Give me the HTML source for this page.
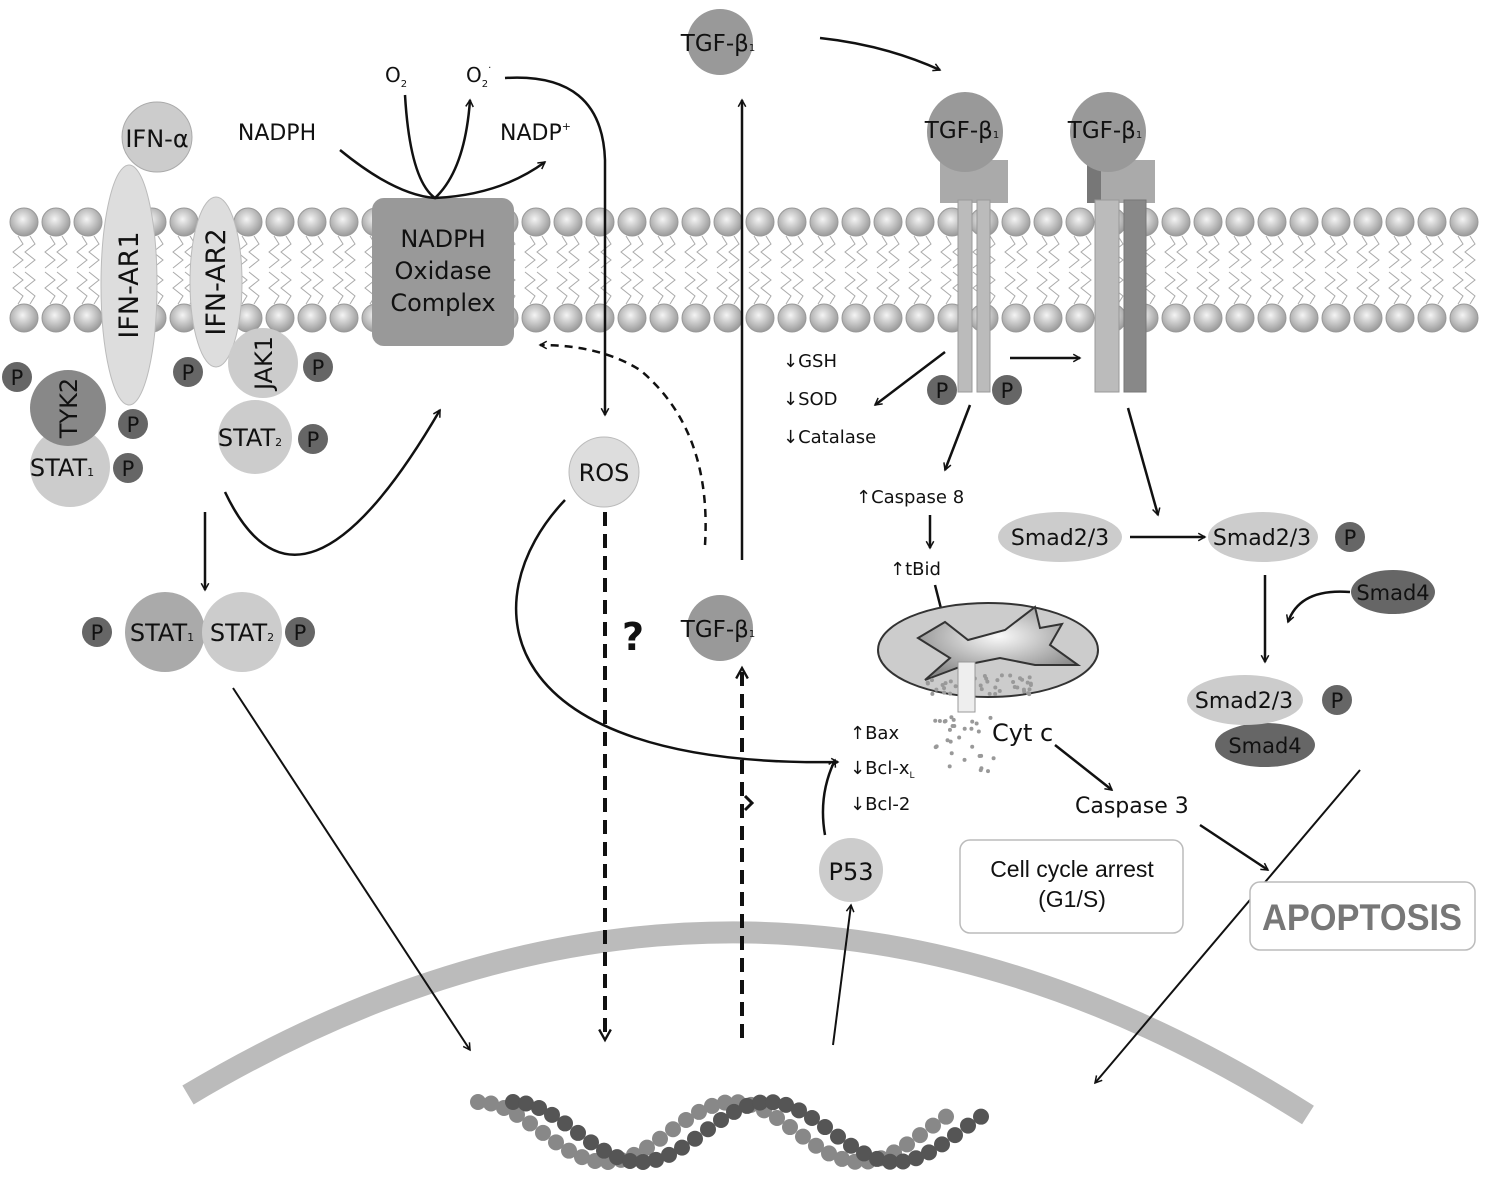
<!DOCTYPE html><html><head><meta charset="utf-8"><style>body{margin:0;background:#fff}svg{display:block}text{font-family:"DejaVu Sans","Liberation Sans",sans-serif;fill:#111}</style></head><body>
<svg id="s" width="1485" height="1185" viewBox="0 0 1485 1185" xmlns="http://www.w3.org/2000/svg">
<defs>
<radialGradient id="bd" cx="45%" cy="40%" r="60%"><stop offset="0" stop-color="#f4f4f4"/><stop offset="1" stop-color="#9a9a9a"/></radialGradient>
<radialGradient id="mt" cx="50%" cy="40%" r="60%"><stop offset="0" stop-color="#fafafa"/><stop offset="1" stop-color="#888"/></radialGradient>
<marker id="a" viewBox="0 0 12 12" refX="10" refY="6" markerWidth="9" markerHeight="9" orient="auto" markerUnits="userSpaceOnUse"><path d="M1,1 L10,6 L1,11" fill="none" stroke="#111" stroke-width="2"/></marker>
<marker id="ab" viewBox="0 0 12 12" refX="10" refY="6" markerWidth="14" markerHeight="14" orient="auto" markerUnits="userSpaceOnUse"><path d="M1,1 L10,6 L1,11" fill="none" stroke="#111" stroke-width="2"/></marker>
</defs>
<g id="mem"></g>
<path d="M188,1095 Q750,760 1308,1115" fill="none" stroke="#bbb" stroke-width="22"/>
<g id="dna"></g>
<circle cx="157" cy="137" r="35" fill="#ccc" stroke="#aaa"/><text x="157" y="147" font-size="24" text-anchor="middle">IFN-α</text>
<ellipse cx="129" cy="285" rx="28" ry="120" fill="#ddd" stroke="#bbb"/>
<text transform="translate(138,285) rotate(-90)" font-size="27" text-anchor="middle">IFN-AR1</text>
<ellipse cx="216" cy="282" rx="26" ry="85" fill="#ddd" stroke="#bbb"/>
<text transform="translate(225,282) rotate(-90)" font-size="27" text-anchor="middle">IFN-AR2</text>
<circle cx="70" cy="467" r="40" fill="#ccc"/><text x="62" y="476" font-size="24" text-anchor="middle">STAT<tspan font-size="11">1</tspan></text>
<circle cx="68" cy="408" r="38" fill="#888"/><text transform="translate(77,408) rotate(-90)" font-size="24" text-anchor="middle">TYK2</text>
<circle cx="263" cy="363" r="35" fill="#ccc"/><text transform="translate(272,363) rotate(-90)" font-size="24" text-anchor="middle">JAK1</text>
<circle cx="255" cy="437" r="37" fill="#ccc"/><text x="250" y="446" font-size="24" text-anchor="middle">STAT<tspan font-size="11">2</tspan></text>
<circle cx="165" cy="632" r="40" fill="#aaa"/><circle cx="242" cy="632" r="40" fill="#ccc"/>
<text x="162" y="641" font-size="24" text-anchor="middle">STAT<tspan font-size="11">1</tspan></text>
<text x="242" y="641" font-size="24" text-anchor="middle">STAT<tspan font-size="11">2</tspan></text>
<g id="ps"></g>
<rect x="372" y="198" width="142" height="148" rx="12" fill="#999"/>
<text font-size="24" text-anchor="middle"><tspan x="443" y="247">NADPH</tspan><tspan x="443" y="279">Oxidase</tspan><tspan x="443" y="311">Complex</tspan></text>
<text x="277" y="140" font-size="22" text-anchor="middle">NADPH</text>
<text x="385" y="82" font-size="20">O<tspan font-size="10" dy="5">2</tspan></text>
<text x="466" y="82" font-size="20">O<tspan font-size="10" dy="5">2</tspan><tspan font-size="10" dy="-16">·</tspan></text>
<text x="500" y="140" font-size="22">NADP<tspan font-size="11" dy="-10">+</tspan></text>
<g fill="none" stroke="#111" stroke-width="2.5">
<path d="M340,150 Q395,195 435,198 Q500,195 545,162" marker-end="url(#a)"/>
<path d="M405,95 Q410,180 435,198 Q465,170 470,100" marker-end="url(#a)"/>
<path d="M505,78 Q602,72 605,160 L605,415" marker-end="url(#a)"/>
<path d="M705,545 Q712,430 640,370 Q600,345 540,345" stroke-dasharray="8,6" marker-end="url(#a)"/>
<path d="M742,560 L742,100" marker-end="url(#a)"/>
<path d="M820,38 Q885,45 940,70" marker-end="url(#a)"/>
<path d="M225,492 Q300,650 440,410" marker-end="url(#a)"/>
<path d="M205,512 L205,590" marker-end="url(#a)"/>
<path d="M233,688 L470,1050" stroke-width="2" marker-end="url(#a)"/>
<path d="M565,500 C470,600 490,768 838,762" marker-end="url(#a)"/>
<path d="M605,512 L605,1040" stroke-width="4" stroke-dasharray="14,8" marker-end="url(#ab)"/>
<path d="M742,1038 L742,668" stroke-width="4" stroke-dasharray="14,8" marker-end="url(#ab)"/>
<path d="M745,810 L752,803 L745,796" stroke-width="3"/>
<path d="M833,1045 L851,905" stroke-width="2" marker-end="url(#a)"/>
<path d="M825,835 Q818,795 835,760" marker-end="url(#a)"/>
<path d="M945,352 L875,405" marker-end="url(#a)"/>
<path d="M1010,358 L1080,358" marker-end="url(#a)"/>
<path d="M970,405 L945,470" marker-end="url(#a)"/>
<path d="M930,515 L930,548" marker-end="url(#a)"/>
<path d="M935,585 L948,636" marker-end="url(#a)"/>
<path d="M1055,745 L1112,790" marker-end="url(#a)"/>
<path d="M1200,825 L1268,870" marker-end="url(#a)"/>
<path d="M1128,408 L1158,515" marker-end="url(#a)"/>
<path d="M1130,537 L1205,537" marker-end="url(#a)"/>
<path d="M1265,575 L1265,662" marker-end="url(#a)"/>
<path d="M1350,592 Q1300,588 1288,622" marker-end="url(#a)"/>
<path d="M1360,770 L1095,1083" stroke-width="2" marker-end="url(#a)"/>
</g>
<circle cx="720" cy="42" r="33" fill="#999"/><text x="718" y="51" font-size="23" text-anchor="middle">TGF-β<tspan font-size="10">1</tspan></text>
<circle cx="720" cy="628" r="33" fill="#999"/><text x="718" y="637" font-size="23" text-anchor="middle">TGF-β<tspan font-size="10">1</tspan></text>
<rect x="940" y="160" width="68" height="43" fill="#aaa"/>
<rect x="958" y="200" width="14" height="192" fill="#bbb" stroke="#999"/><rect x="977" y="200" width="13" height="192" fill="#bbb" stroke="#999"/>
<rect x="1087" y="160" width="68" height="43" fill="#aaa"/><rect x="1087" y="160" width="14" height="43" fill="#777"/>
<rect x="1095" y="200" width="24" height="192" fill="#bbb" stroke="#999"/><rect x="1124" y="200" width="22" height="192" fill="#888" stroke="#777"/>
<ellipse cx="965" cy="132" rx="38" ry="40" fill="#999"/><text x="962" y="138" font-size="23" text-anchor="middle">TGF-β<tspan font-size="10">1</tspan></text>
<ellipse cx="1108" cy="132" rx="38" ry="40" fill="#999"/><text x="1105" y="138" font-size="23" text-anchor="middle">TGF-β<tspan font-size="10">1</tspan></text>
<circle cx="604" cy="472" r="35" fill="#ddd" stroke="#bbb"/><text x="604" y="481" font-size="24" text-anchor="middle">ROS</text>
<circle cx="851" cy="870" r="32" fill="#ccc"/><text x="851" y="880" font-size="24" text-anchor="middle">P53</text>
<text x="633" y="650" font-size="38" font-weight="bold" text-anchor="middle">?</text>
<g font-size="18">
<text x="783" y="367">↓GSH</text><text x="783" y="405">↓SOD</text><text x="783" y="443">↓Catalase</text>
<text x="856" y="503">↑Caspase 8</text><text x="890" y="575">↑tBid</text>
<text x="850" y="739">↑Bax</text><text x="850" y="774">↓Bcl-x<tspan font-size="9" dy="4">L</tspan></text><text x="850" y="810">↓Bcl-2</text>
</g>
<ellipse cx="988" cy="650" rx="110" ry="47" fill="#ccc" stroke="#333" stroke-width="2"/>
<path d="M918,638 L945,622 L968,640 L1005,630 L1035,607 L1040,628 L1062,624 L1050,645 L1078,665 L1035,665 L1000,658 L965,665 L925,680 L950,658 Z" fill="url(#mt)" stroke="#333" stroke-width="2"/>
<g fill="#999" id="dots"></g>
<rect x="958" y="662" width="17" height="50" fill="#eee" stroke="#999"/>
<text x="992" y="741" font-size="24">Cyt c</text>
<text x="1075" y="813" font-size="22">Caspase 3</text>
<ellipse cx="1060" cy="537" rx="62" ry="25" fill="#ccc"/><text x="1060" y="545" font-size="22" text-anchor="middle">Smad2/3</text>
<ellipse cx="1263" cy="537" rx="55" ry="25" fill="#ccc"/><text x="1262" y="545" font-size="22" text-anchor="middle">Smad2/3</text>
<ellipse cx="1393" cy="592" rx="42" ry="22" fill="#666"/><text x="1393" y="600" font-size="21" text-anchor="middle">Smad4</text>
<ellipse cx="1265" cy="745" rx="50" ry="22" fill="#666"/><text x="1265" y="753" font-size="21" text-anchor="middle">Smad4</text>
<ellipse cx="1245" cy="700" rx="58" ry="25" fill="#ccc"/><text x="1244" y="708" font-size="22" text-anchor="middle">Smad2/3</text>
<g id="ps2"></g>
<rect x="960" y="840" width="223" height="93" rx="10" fill="#fff" stroke="#bbb" stroke-width="1.5"/>
<text text-anchor="middle" style="font-family:'Liberation Sans',sans-serif;font-size:23px"><tspan x="1072" y="877">Cell cycle arrest</tspan><tspan x="1072" y="907">(G1/S)</tspan></text>
<rect x="1250" y="882" width="225" height="68" rx="10" fill="#fff" stroke="#bbb" stroke-width="1.5"/>
<text x="1362" y="930" text-anchor="middle" style="fill:#777;font-family:'Liberation Sans',sans-serif;font-size:37px;font-weight:bold" textLength="200" lengthAdjust="spacingAndGlyphs">APOPTOSIS</text>
</svg>
<script>
const NS="http://www.w3.org/2000/svg";
function el(p,t,a){const e=document.createElementNS(NS,t);for(const k in a)e.setAttribute(k,a[k]);p.appendChild(e);return e;}
const m=document.getElementById('mem');
for(let x=24;x<1485;x+=32){
 for(const dx of [-6,6]){
  let d=`M${x+dx},236`;for(let i=1;i<=4;i++)d+=` L${x+dx+(i%2?5:-5)},${236+i*8}`;
  let d2=`M${x+dx},304`;for(let i=1;i<=4;i++)d2+=` L${x+dx+(i%2?5:-5)},${304-i*8}`;
  el(m,'path',{d:d,fill:'none',stroke:'#aaa','stroke-width':1});el(m,'path',{d:d2,fill:'none',stroke:'#aaa','stroke-width':1});
 }
 el(m,'circle',{cx:x,cy:222,r:14,fill:'url(#bd)',stroke:'#999'});
 el(m,'circle',{cx:x,cy:318,r:14,fill:'url(#bd)',stroke:'#999'});
}
const dn=document.getElementById('dna');
for(let s=0;s<2;s++){const off=s?35:0;for(let x=478+off;x<=992-(s?0:35);x+=13){
 const y=1132-30*Math.cos((x-478-off)/255*2*Math.PI);
 el(dn,'circle',{cx:x,cy:y,r:8,fill:s?'#555':'#888'});}}
const P=(g,x,y)=>{el(g,'circle',{cx:x,cy:y,r:15,fill:'#666'});const t=el(g,'text',{x:x,y:y+8,'font-size':21,'text-anchor':'middle'});t.textContent='P';};
const ps=document.getElementById('ps');
[[17,377],[188,372],[133,424],[318,367],[128,468],[313,439],[97,632],[300,632],[942,390],[1007,390]].forEach(p=>P(ps,p[0],p[1]));
const ps2=document.getElementById('ps2');[[1350,537],[1337,700]].forEach(p=>P(ps2,p[0],p[1]));
const dt=document.getElementById('dots');
let seed=3;const r=()=>{seed=(seed*9301+49297)%233280;return seed/233280;};
for(let i=0;i<45;i++){const x=925+r()*110,y=675+r()*20;el(dt,'circle',{cx:x,cy:y,r:2});}
for(let i=0;i<30;i++){const x=935+r()*60,y=715+r()*60;el(dt,'circle',{cx:x,cy:y,r:2});}
</script>
</body></html>
